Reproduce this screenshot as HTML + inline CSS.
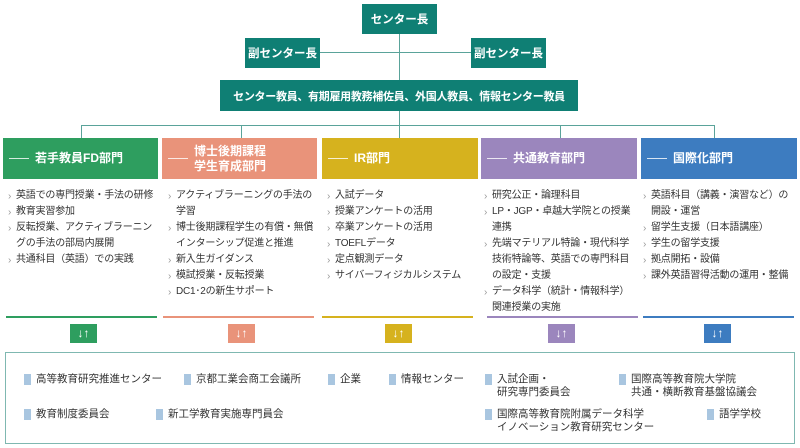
<!DOCTYPE html>
<html><head><meta charset="utf-8"><style>
*{margin:0;padding:0;box-sizing:border-box}
body{width:800px;height:448px;background:#fff;position:relative;overflow:hidden;font-family:"Liberation Sans","Noto Sans CJK JP",sans-serif}
.t{position:absolute;background:#0f7f74;color:#fff;font-weight:bold;font-size:11.5px;display:flex;align-items:center;justify-content:center;white-space:nowrap}
.ln{position:absolute;background:#5aa39a}
.d{position:absolute;top:138px;height:41px;color:#fff;font-size:12px;font-weight:bold;display:flex;align-items:center;padding-left:32px;line-height:15px}
.d:before{content:"";position:absolute;left:6px;top:20px;width:20px;height:1px;background:rgba(255,255,255,.8)}
.l{position:absolute;top:188px;font-size:10px;line-height:16px;color:#333;list-style:none;letter-spacing:-0.2px}
.l li{padding-left:8px;position:relative}
.l li:before{content:"›";position:absolute;left:0;top:1px;color:#999;font-size:10px}
.bar{position:absolute;top:316px;height:2px}
.ar{position:absolute;top:324px;width:27px;height:19px;color:#fff;font-size:12px;font-weight:bold;text-align:center;line-height:19px}
.b{position:absolute;font-size:10.5px;color:#333;line-height:13px;padding-left:12px}
.b:before{content:"";position:absolute;left:0;top:1px;width:7px;height:11px;background:#a9c6e0}
</style></head><body>
<div class="ln" style="left:399px;top:34px;width:1px;height:104px"></div>
<div class="ln" style="left:320px;top:52px;width:151px;height:1px"></div>
<div class="ln" style="left:81px;top:125px;width:634px;height:1px"></div>
<div class="ln" style="left:81px;top:125px;width:1px;height:13px"></div>
<div class="ln" style="left:241px;top:125px;width:1px;height:13px"></div>
<div class="ln" style="left:560px;top:125px;width:1px;height:13px"></div>
<div class="ln" style="left:714px;top:125px;width:1px;height:13px"></div>
<div class="t" style="left:362px;top:4px;width:75px;height:30px">センター長</div>
<div class="t" style="left:245px;top:38px;width:75px;height:30px">副センター長</div>
<div class="t" style="left:471px;top:38px;width:75px;height:30px">副センター長</div>
<div class="t" style="left:220px;top:80px;width:358px;height:31px;font-size:11px;letter-spacing:-0.3px">センター教員、有期雇用教務補佐員、外国人教員、情報センター教員</div>

<div class="d" style="left:3px;width:155px;background:#2e9e5f">若手教員FD部門</div>
<div class="d" style="left:162px;width:155px;background:#e9937a">博士後期課程<br>学生育成部門</div>
<div class="d" style="left:322px;width:156px;background:#d6b21e">IR部門</div>
<div class="d" style="left:481px;width:156px;background:#9b86bd">共通教育部門</div>
<div class="d" style="left:641px;width:156px;background:#3d7cc0">国際化部門</div>

<ul class="l" style="left:8px;width:152px"><li>英語での専門授業・手法の研修</li><li>教育実習参加</li><li>反転授業、アクティブラーニングの手法の部局内展開</li><li>共通科目（英語）での実践</li></ul>
<ul class="l" style="left:168px;width:150px"><li>アクティブラーニングの手法の学習</li><li>博士後期課程学生の有償・無償インターシップ促進と推進</li><li>新入生ガイダンス</li><li>模試授業・反転授業</li><li>DC1･2の新生サポート</li></ul>
<ul class="l" style="left:327px;width:150px"><li>入試データ</li><li>授業アンケートの活用</li><li>卒業アンケートの活用</li><li>TOEFLデータ</li><li>定点観測データ</li><li>サイバーフィジカルシステム</li></ul>
<ul class="l" style="left:484px;width:150px"><li>研究公正・論理科目</li><li>LP・JGP・卓越大学院との授業<br>連携</li><li>先端マテリアル特論・現代科学技術特論等、英語での専門科目の設定・支援</li><li>データ科学（統計・情報科学）関連授業の実施</li></ul>
<ul class="l" style="left:643px;width:154px"><li>英語科目（講義・演習など）の開設・運営</li><li>留学生支援（日本語講座）</li><li>学生の留学支援</li><li>拠点開拓・設備</li><li>課外英語習得活動の運用・整備</li></ul>

<div class="bar" style="left:6px;width:151px;background:#2e9e5f"></div>
<div class="bar" style="left:163px;width:151px;background:#e9937a"></div>
<div class="bar" style="left:322px;width:151px;background:#d6b21e"></div>
<div class="bar" style="left:487px;width:151px;background:#9b86bd"></div>
<div class="bar" style="left:643px;width:151px;background:#3d7cc0"></div>
<div class="ar" style="left:70px;background:#2e9e5f">↓↑</div>
<div class="ar" style="left:228px;background:#e9937a">↓↑</div>
<div class="ar" style="left:385px;background:#d6b21e">↓↑</div>
<div class="ar" style="left:548px;background:#9b86bd">↓↑</div>
<div class="ar" style="left:704px;background:#3d7cc0">↓↑</div>

<div style="position:absolute;left:5px;top:352px;width:790px;height:92px;border:1.5px solid #7fb8b1"></div>
<div class="b" style="left:24px;top:373px">高等教育研究推進センター</div>
<div class="b" style="left:184px;top:373px">京都工業会商工会議所</div>
<div class="b" style="left:328px;top:373px">企業</div>
<div class="b" style="left:389px;top:373px">情報センター</div>
<div class="b" style="left:485px;top:373px">入試企画・<br>研究専門委員会</div>
<div class="b" style="left:619px;top:373px">国際高等教育院大学院<br>共通・横断教育基盤協議会</div>
<div class="b" style="left:24px;top:408px">教育制度委員会</div>
<div class="b" style="left:156px;top:408px">新工学教育実施専門員会</div>
<div class="b" style="left:485px;top:408px">国際高等教育院附属データ科学<br>イノベーション教育研究センター</div>
<div class="b" style="left:707px;top:408px">語学学校</div>
</body></html>
